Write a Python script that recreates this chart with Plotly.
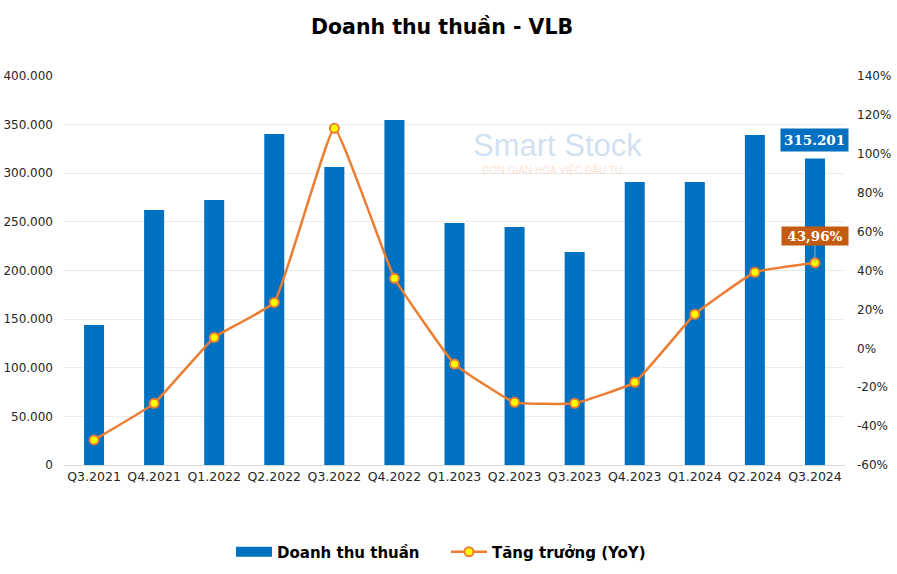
import plotly.graph_objects as go

quarters = ["Q3.2021", "Q4.2021", "Q1.2022", "Q2.2022", "Q3.2022", "Q4.2022", "Q1.2023",
            "Q2.2023", "Q3.2023", "Q4.2023", "Q1.2024", "Q2.2024", "Q3.2024"]
revenue = [144000, 262200, 272500, 340400, 306400, 354800, 248800,
           244700, 219000, 291000, 291000, 339300, 315201]
growth_yoy = [-47.1, -28.3, 5.6, 23.6, 113.1, 36.0, -8.1,
              -27.8, -28.3, -17.5, 17.5, 39.1, 43.96]

left_tickvals = [0, 50000, 100000, 150000, 200000, 250000, 300000, 350000, 400000]
left_ticktext = ["0", "50.000", "100.000", "150.000", "200.000", "250.000", "300.000", "350.000", "400.000"]
right_tickvals = [-60, -40, -20, 0, 20, 40, 60, 80, 100, 120, 140]
right_ticktext = ["-60%", "-40%", "-20%", "0%", "20%", "40%", "60%", "80%", "100%", "120%", "140%"]

title_text = "Doanh thu thuần - VLB"
bar_name = "Doanh thu thuần"
line_name = "Tăng trưởng (YoY)"
last_rev_label = "315.201"
last_growth_label = "43,96%"
watermark_main = "Smart Stock"
watermark_sub = "ĐƠN GIẢN HÓA VIỆC ĐẦU TƯ"

FONT = "DejaVu Sans"
LABEL_FONT = "DejaVu Serif"
BLUE = "#0070C0"
ORANGE = "#ED7D31"

# plot area in pixels (for paper-coordinate placement of decorations)
PL, PR, PT, PB = 64, 845, 76, 465
W, H = 897, 574

fig = go.Figure()
fig.add_trace(go.Bar(
    x=quarters, y=revenue, name=bar_name,
    marker=dict(color=BLUE, line=dict(width=0)),
    yaxis="y", showlegend=False,
))
# legend proxy for the bar series (wide rectangle swatch)
fig.add_trace(go.Scatter(
    x=[quarters[0]], y=[None], name=bar_name, mode="lines",
    line=dict(color=BLUE, width=10), yaxis="y", legend="legend",
))
fig.add_trace(go.Scatter(
    x=quarters, y=growth_yoy, name=line_name, yaxis="y2", legend="legend2",
    mode="lines+markers",
    line=dict(color=ORANGE, width=2.5, shape="spline", smoothing=0.3),
    marker=dict(size=9, color="#FFFF00", line=dict(color=ORANGE, width=2)),
))

fig.add_annotation(
    x=quarters[-1], y=revenue[-1], xref="x", yref="y",
    text="<b>" + last_rev_label + "</b>", showarrow=False,
    yanchor="bottom", yshift=6,
    font=dict(family=LABEL_FONT, size=13.5, color="white"),
    bgcolor=BLUE, borderpad=3,
)
fig.add_annotation(
    x=quarters[-1], y=growth_yoy[-1], xref="x", yref="y2",
    text="&nbsp;<b>" + last_growth_label + "</b>&nbsp;", showarrow=True,
    arrowhead=0, arrowwidth=1, arrowcolor="#a6a6a6",
    ax=0, ay=-27,
    font=dict(family=LABEL_FONT, size=13.5, color="white"),
    bgcolor="#C55A11", borderpad=1,
)

# watermark
fig.add_annotation(
    x=(557 - PL) / (PR - PL), y=(PB - 145) / (PB - PT), xref="paper", yref="paper",
    text=watermark_main, showarrow=False,
    font=dict(family="Liberation Sans", size=31, color="rgba(150,185,225,0.45)"),
    xanchor="center", yanchor="middle",
)
fig.add_annotation(
    x=(553 - PL) / (PR - PL), y=(PB - 170) / (PB - PT), xref="paper", yref="paper",
    text=watermark_sub, showarrow=False,
    font=dict(family="Liberation Sans", size=10, color="rgba(240,170,120,0.35)"),
    xanchor="center", yanchor="middle",
)

legend_font = dict(family=FONT, size=15, color="black", weight="bold")
legend_y = (PB - 552) / (PB - PT)

fig.update_layout(
    width=W, height=H,
    margin=dict(l=PL, r=W - PR, t=PT, b=H - PB, autoexpand=False),
    paper_bgcolor="white", plot_bgcolor="white",
    title=dict(text="<b>" + title_text + "</b>", x=0.4928, xanchor="center",
               y=1 - 27 / H, yanchor="middle", xref="container", yref="container",
               font=dict(family=FONT, size=20.5, color="black")),
    bargap=0.667,
    showlegend=True,
    legend=dict(orientation="h", x=(231 - PL) / (PR - PL), xanchor="left",
                y=legend_y, yanchor="middle", font=legend_font, itemwidth=36,
                bgcolor="rgba(0,0,0,0)"),
    legend2=dict(orientation="h", x=(446 - PL) / (PR - PL), xanchor="left",
                 y=legend_y, yanchor="middle", font=legend_font, itemwidth=36,
                 bgcolor="rgba(0,0,0,0)"),
    xaxis=dict(type="category", range=[-0.5, len(quarters) - 0.5], showgrid=False,
               showline=True, linecolor="#d9d9d9", linewidth=1,
               ticks="", tickfont=dict(family=FONT, size=12.5, color="#262626"), automargin=False),
    yaxis=dict(range=[0, 400000], tickvals=left_tickvals, ticktext=left_ticktext,
               showgrid=True, gridcolor="#ececec", gridwidth=1, zeroline=False,
               tickfont=dict(family=FONT, size=12, color="#262626"), ticks="",
               ticklabelstandoff=10, automargin=False),
    yaxis2=dict(range=[-60, 140], tickvals=right_tickvals, ticktext=right_ticktext,
                overlaying="y", side="right", showgrid=False, zeroline=False,
                tickfont=dict(family=FONT, size=12, color="#262626"), ticks="",
                ticklabelstandoff=11, automargin=False),
)

fig.write_html("out.html", config={"displayModeBar": False},
               post_script="document.body.style.margin='0';")
